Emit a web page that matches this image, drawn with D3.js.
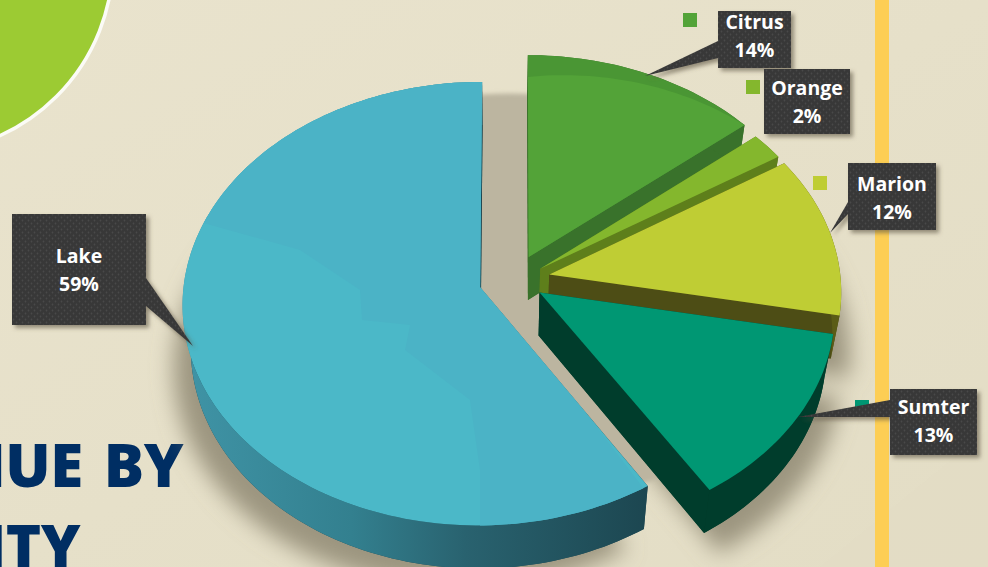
<!DOCTYPE html>
<meta charset="utf-8">
<style>
html, body { margin: 0; padding: 0; background: #e8e2cc; overflow: hidden; }
svg { display: block; font-family: "Open Sans", sans-serif; }
</style>
<body>
<script src="https://d3js.org/d3.v7.min.js"></script>
<script>
var counties = ['Citrus', 'Orange', 'Marion', 'Sumter', 'Lake']
var shares = [14, 2, 12, 13, 59]
var titleLines = ['REVENUE BY', 'COUNTY']

var width = 988
var height = 567

// look of the 3d pie, fitted by eye
var cx = 510, cy = 280, R = 296
var tilt = 0.742, persp = 0.074
var depth = 43, depthShrink = 0.974, vanishX = 500
var explode = [30, 35, 40, 32, 30]
var nudge = [[6, -3], [2, 4], [0, 0], [3, -1], [-1, 1]]
var sizes = [1, 1, 0.985, 0.99, 1]

var topColor = d3.scaleOrdinal(counties, ['#53a338', '#84b72d', '#bfcd34', '#009773', '#4bb8c8'])
var sideColor = d3.scaleOrdinal(counties, ['#39722b', '#5e7f1b', '#5a5c16', '#003d2c', '#1d4650'])

// box, key square, pointer and text baseline for each callout
var callouts = {
    Citrus: { box: [718, 11, 73, 57], key: [683, 13], ptr: [[718, 41], [718, 58], [645, 76]], y: 29 },
    Orange: { box: [764, 69, 86, 65], key: [746, 80], ptr: null, y: 95 },
    Marion: { box: [848, 163, 88, 67], key: [813, 176], ptr: [[848, 202], [848, 214], [830, 233]], y: 191 },
    Sumter: { box: [890, 389, 87, 66], key: [855, 400], ptr: [[890, 400], [890, 417], [798, 417]], y: 414 },
    Lake: { box: [12, 214, 134, 111], key: null, ptr: [[146, 278], [146, 306], [193, 346]], y: 263 }
}

var svg = d3.select('body').append('svg')
    .attr('width', width)
    .attr('height', height)

var defs = svg.append('defs')

var bg = defs.append('linearGradient').attr('id', 'bg')
    .attr('x1', 0).attr('y1', 0).attr('x2', 1).attr('y2', 1)
bg.append('stop').attr('offset', 0).attr('stop-color', '#e9e3cd')
bg.append('stop').attr('offset', 1).attr('stop-color', '#e3ddc5')

var rim = defs.append('linearGradient').attr('id', 'rim')
    .attr('gradientUnits', 'userSpaceOnUse')
    .attr('x1', 190).attr('y1', 0).attr('x2', 650).attr('y2', 0)
rim.append('stop').attr('offset', 0).attr('stop-color', '#3f93a5')
rim.append('stop').attr('offset', 0.35).attr('stop-color', '#33808f')
rim.append('stop').attr('offset', 0.6).attr('stop-color', '#29626f')
rim.append('stop').attr('offset', 1).attr('stop-color', '#1c4650')

defs.append('filter').attr('id', 'blur').attr('x', '-20%').attr('y', '-20%').attr('width', '140%').attr('height', '140%')
    .append('feGaussianBlur').attr('stdDeviation', 11)

defs.append('filter').attr('id', 'blurSmall').attr('x', '-20%').attr('y', '-20%').attr('width', '140%').attr('height', '140%')
    .append('feGaussianBlur').attr('stdDeviation', 2)

var boxShadow = defs.append('filter').attr('id', 'boxShadow')
    .attr('x', '-20%').attr('y', '-20%').attr('width', '140%').attr('height', '140%')
boxShadow.append('feDropShadow').attr('dx', 3).attr('dy', 3).attr('stdDeviation', 2)
    .attr('flood-color', '#5a5340').attr('flood-opacity', 0.6)

var dots = defs.append('pattern').attr('id', 'dots')
    .attr('patternUnits', 'userSpaceOnUse').attr('width', 6).attr('height', 6)
dots.append('rect').attr('width', 6).attr('height', 6).attr('fill', '#383838')
dots.append('circle').attr('cx', 1.5).attr('cy', 1.5).attr('r', 0.9).attr('fill', '#484848')
dots.append('circle').attr('cx', 4.5).attr('cy', 4.5).attr('r', 0.9).attr('fill', '#484848')

var pie = d3.pie().sort(null).value(function (d) { return d })
var arcs = pie(shares).map(function (d, i) {
    d.name = counties[i]
    d.off = explode[i]
    d.nudge = nudge[i]
    d.size = sizes[i]
    d.mid = (d.startAngle + d.endAngle) / 2
    return d
})

// pie plane -> screen
function project(slice, angle, r) {
    var u = slice.off * Math.sin(slice.mid) + r * slice.size * Math.sin(angle)
    var v = -slice.off * Math.cos(slice.mid) - r * slice.size * Math.cos(angle)
    var s = 1 / (1 - persp * v / R)
    return [cx + u * s + slice.nudge[0], cy + tilt * v * s + slice.nudge[1]]
}

function lower(p) {
    return [vanishX + (p[0] - vanishX) * depthShrink, p[1] + depth]
}

function arcPoints(slice, r0, r1) {
    var n = Math.max(4, Math.ceil((slice.endAngle - slice.startAngle) * 40))
    return d3.range(n + 1).map(function (i) {
        var t = i / n
        return project(slice, slice.startAngle + (slice.endAngle - slice.startAngle) * t, r0 + (r1 - r0) * t)
    })
}

var line = d3.line()

function facePath(slice) {
    return line([project(slice, slice.mid, 0)].concat(arcPoints(slice, R, R))) + 'Z'
}

function lowerPath(slice) {
    return line([project(slice, slice.mid, 0)].concat(arcPoints(slice, R, R)).map(lower)) + 'Z'
}

function ribbonPath(slice) {
    var a = arcPoints(slice, R, R)
    return line(a.concat(a.slice().reverse().map(lower))) + 'Z'
}

function wallPath(slice, angle) {
    var t = project(slice, slice.mid, 0)
    var e = project(slice, angle, R)
    return line([t, e, lower(e), lower(t)]) + 'Z'
}

// background
svg.append('rect').attr('width', width).attr('height', height).attr('fill', 'url(#bg)')
svg.append('path').attr('d', 'M820,567L988,430V567Z').attr('fill', '#e2dcc4').attr('opacity', 0.6)

// green disc, top left
svg.append('circle').attr('cx', -80).attr('cy', -40).attr('r', 193)
    .attr('fill', '#9ccb33').attr('stroke', '#fbfbf6').attr('stroke-width', 3.5)

// yellow bar
svg.append('rect').attr('x', 875).attr('y', 0).attr('width', 14).attr('height', height).attr('fill', '#fdce54')

// title
svg.selectAll('text.title').data(titleLines).enter().append('text')
    .attr('class', 'title')
    .attr('x', function (d, i) { return i === 0 ? 183 : 80 })
    .attr('y', function (d, i) { return i === 0 ? 487 : 568 })
    .attr('text-anchor', 'end')
    .attr('font-size', 60)
    .attr('font-weight', 800)
    .attr('letter-spacing', -0.5)
    .attr('word-spacing', 6)
    .attr('fill', '#002e63')
    .text(function (d) { return d })

// shadows
var shadow = svg.append('g')
shadow.append('g').attr('filter', 'url(#blur)').selectAll('path').data(arcs).enter().append('path')
    .attr('d', lowerPath)
    .attr('fill', '#8f8873')
    .attr('opacity', 0.85)
    .attr('transform', function (d) { return 'translate(' + (Math.sin(d.mid) * 18) + ',20)' })
shadow.append('ellipse')
    .attr('cx', cx).attr('cy', cy + 20).attr('rx', R * 0.98).attr('ry', R * tilt * 0.94)
    .attr('fill', '#bcb5a0').attr('filter', 'url(#blurSmall)')

// slices, back to front
var slices = svg.selectAll('g.slice').data(arcs).enter().append('g').attr('class', 'slice')

slices.append('path').attr('d', lowerPath)
    .attr('fill', function (d) { return sideColor(d.name) })
slices.append('path').attr('d', function (d) { return wallPath(d, d.startAngle) })
    .attr('fill', function (d) { return d.name === 'Marion' ? '#4d4d15' : sideColor(d.name) })
slices.append('path').attr('d', function (d) { return wallPath(d, d.endAngle) })
    .attr('fill', function (d) { return d.name === 'Marion' ? '#4d4d15' : sideColor(d.name) })
slices.append('path').attr('d', ribbonPath)
    .attr('fill', function (d) { return d.name === 'Lake' ? 'url(#rim)' : sideColor(d.name) })

slices.append('clipPath').attr('id', function (d) { return 'clip' + d.name })
    .append('path').attr('d', facePath)

slices.append('path').attr('d', facePath)
    .attr('fill', function (d) { return d.name === 'Citrus' ? '#4a9634' : topColor(d.name) })

// lighter inner part of the citrus slice, the rest stays as an edge band
slices.filter(function (d) { return d.name === 'Citrus' })
    .append('path')
    .attr('d', function (d) { return line([project(d, d.mid, 0)].concat(arcPoints(d, R * 0.885, R))) + 'Z' })
    .attr('fill', function (d) { return topColor(d.name) })

// faint facets on the big slice
var lake = slices.filter(function (d) { return d.name === 'Lake' }).append('g').attr('clip-path', 'url(#clipLake)')
lake.append('path')
    .attr('d', 'M200,222L300,250L360,290L362,320L410,325L405,350L470,400L480,470L480,530L660,510L500,300L482,70L200,100Z')
    .attr('fill', '#4bb3c6')

// callouts
var labels = svg.selectAll('g.callout').data(arcs).enter().append('g').attr('class', 'callout')

labels.each(function (d) {
    var c = callouts[d.name]
    var g = d3.select(this)
    if (c.key) {
        g.append('rect').attr('x', c.key[0]).attr('y', c.key[1]).attr('width', 14).attr('height', 14)
            .attr('fill', topColor(d.name))
    }
    var shape = g.append('g').attr('filter', 'url(#boxShadow)')
    if (c.ptr) {
        shape.append('path').attr('d', line(c.ptr) + 'Z').attr('fill', 'url(#dots)')
    }
    shape.append('rect').attr('x', c.box[0]).attr('y', c.box[1]).attr('width', c.box[2]).attr('height', c.box[3])
        .attr('fill', 'url(#dots)')

    var mx = c.box[0] + c.box[2] / 2
    var text = g.append('text').attr('text-anchor', 'middle').attr('fill', '#ffffff')
        .attr('font-size', 19.5).attr('font-weight', 700)
    text.append('tspan').attr('x', mx).attr('y', c.y).text(d.name)
    text.append('tspan').attr('x', mx).attr('y', c.y + 28).text(d.value + '%')
})
</script>
</body>
